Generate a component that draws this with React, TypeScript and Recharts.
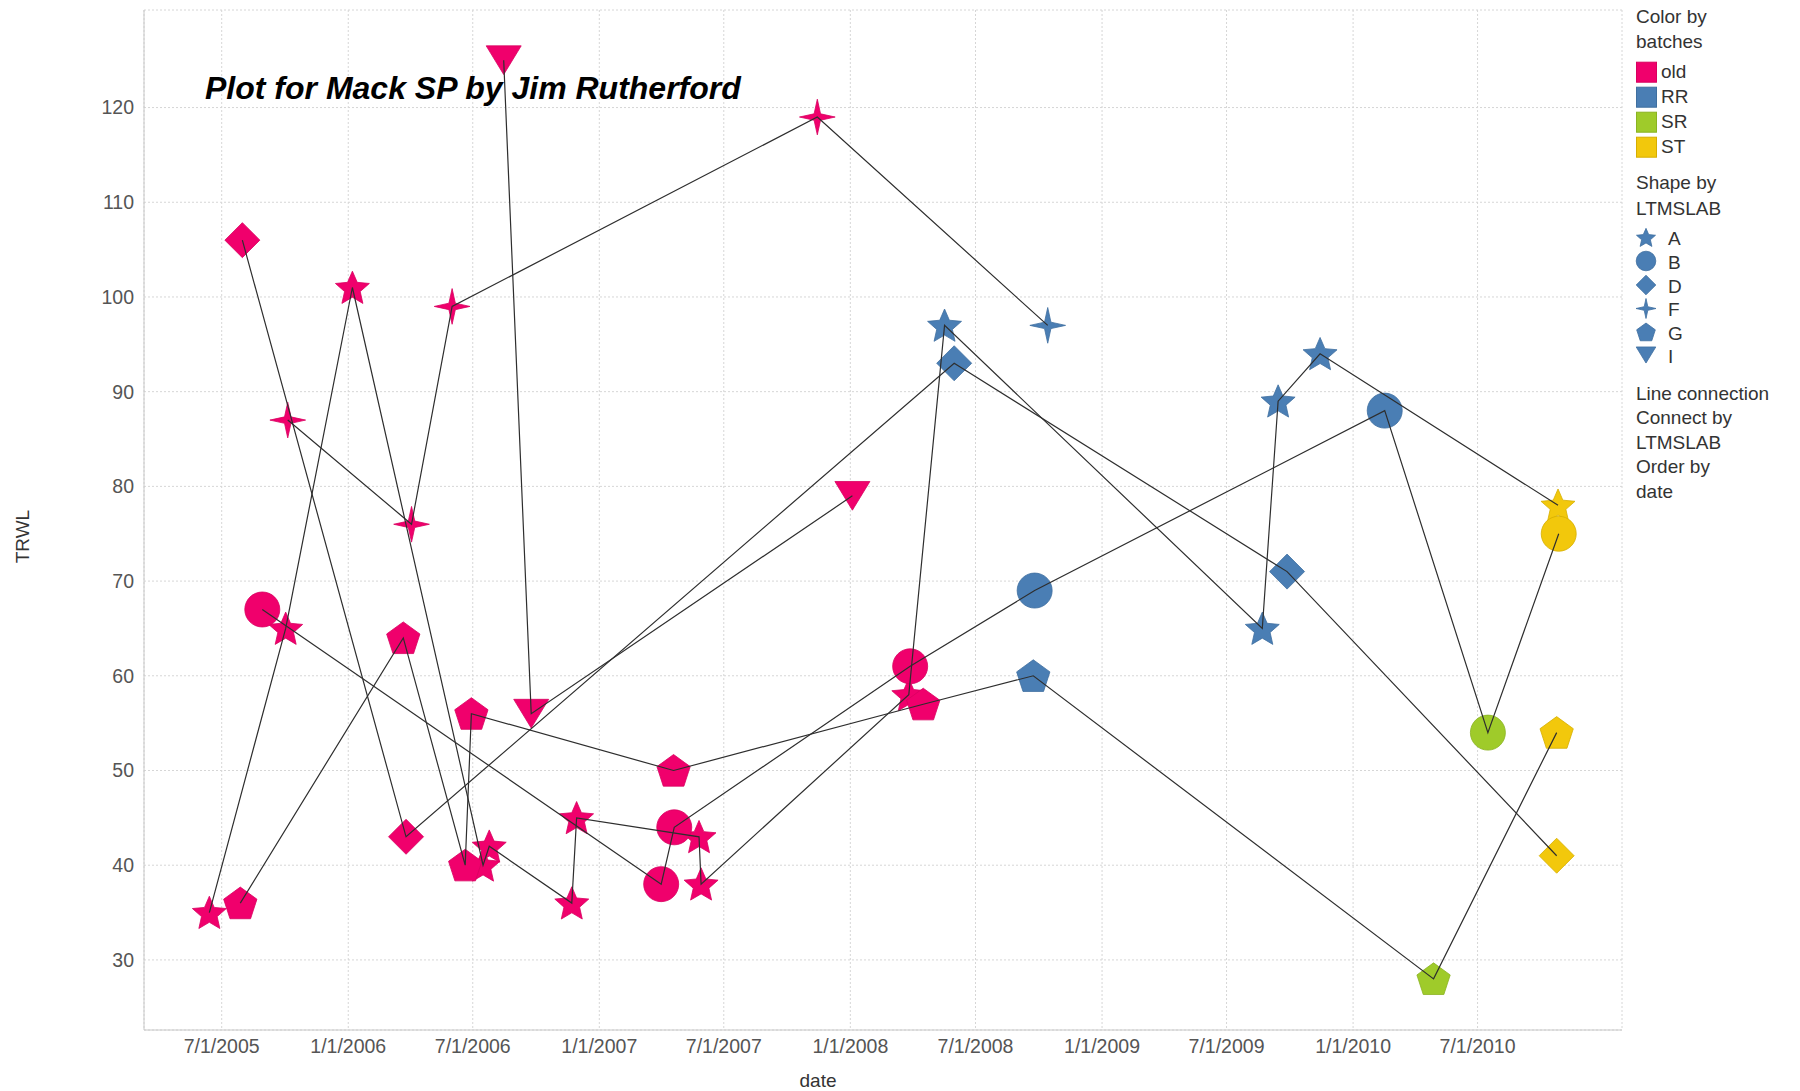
import React from 'react'
import { ScatterChart, Scatter, XAxis, YAxis, CartesianGrid } from 'recharts'

type Pt = [string, number, string]

// one list per LTMSLAB, already in date order: [date, TRWL, batch]
const labA: Pt[] = [
  ['2005-06-13', 35, 'old'],
  ['2005-10-02', 65, 'old'],
  ['2006-01-07', 101, 'old'],
  ['2006-07-16', 40, 'old'],
  ['2006-07-25', 42, 'old'],
  ['2006-11-22', 36, 'old'],
  ['2006-11-29', 45, 'old'],
  ['2007-05-26', 43, 'old'],
  ['2007-05-29', 38, 'old'],
  ['2008-03-26', 58, 'old'],
  ['2008-05-17', 97, 'RR'],
  ['2009-08-22', 65, 'RR'],
  ['2009-09-14', 89, 'RR'],
  ['2009-11-14', 94, 'RR'],
  ['2010-10-26', 78, 'ST'],
]
const labB: Pt[] = [
  ['2005-08-29', 67, 'old'],
  ['2007-04-01', 38, 'old'],
  ['2007-04-20', 44, 'old'],
  ['2008-03-28', 61, 'old'],
  ['2008-09-25', 69, 'RR'],
  ['2010-02-16', 88, 'RR'],
  ['2010-07-16', 54, 'SR'],
  ['2010-10-27', 75, 'ST'],
]
const labD: Pt[] = [
  ['2005-07-31', 106, 'old'],
  ['2006-03-26', 43, 'old'],
  ['2008-05-31', 93, 'RR'],
  ['2009-09-27', 71, 'RR'],
  ['2010-10-24', 41, 'ST'],
]
const labF: Pt[] = [
  ['2005-10-05', 87, 'old'],
  ['2006-04-03', 76, 'old'],
  ['2006-06-01', 99, 'old'],
  ['2007-11-14', 119, 'old'],
  ['2008-10-14', 97, 'RR'],
]
const labG: Pt[] = [
  ['2005-07-28', 36, 'old'],
  ['2006-03-22', 64, 'old'],
  ['2006-06-20', 40, 'old'],
  ['2006-06-29', 56, 'old'],
  ['2007-04-19', 50, 'old'],
  ['2008-04-16', 57, 'old'],
  ['2008-09-23', 60, 'RR'],
  ['2010-04-28', 28, 'SR'],
  ['2010-10-24', 54, 'ST'],
]
const labI: Pt[] = [
  ['2006-08-15', 125, 'old'],
  ['2006-09-24', 56, 'old'],
  ['2008-01-04', 79, 'old'],
]

const batches = ['old', 'RR', 'SR', 'ST']
const labs = ['A', 'B', 'D', 'F', 'G', 'I']

const xTickDates = [
  '2005-07-01', '2006-01-01', '2006-07-01', '2007-01-01', '2007-07-01', '2008-01-01',
  '2008-07-01', '2009-01-01', '2009-07-01', '2010-01-01', '2010-07-01',
]
const yTicks = [30, 40, 50, 60, 70, 80, 90, 100, 110, 120]

const COLORS: Record<string, string> = {
  old: '#f0006c',
  RR: '#4a7eb4',
  SR: '#9fcb2a',
  ST: '#f2c80c',
}
const EDGES: Record<string, string> = {
  old: '#d8005f',
  RR: '#3f6f9f',
  SR: '#8ab322',
  ST: '#d6ae00',
}

const FONT = '"Liberation Sans", Arial, sans-serif'

const toRows = (pts: Pt[]) => pts.map(([d, v, b]) => ({ t: Date.parse(d), v, batch: b }))

const series: Record<string, ReturnType<typeof toRows>> = {
  A: toRows(labA),
  B: toRows(labB),
  D: toRows(labD),
  F: toRows(labF),
  G: toRows(labG),
  I: toRows(labI),
}

const xTicks = xTickDates.map((d) => Date.parse(d))
const fmtDate = (t: number) => {
  const d = new Date(t)
  return `${d.getUTCMonth() + 1}/${d.getUTCDate()}/${d.getUTCFullYear()}`
}

function polyPts(cx: number, cy: number, radii: number[], start: number) {
  const n = radii.length
  return radii
    .map((r, i) => {
      const a = start + (i * 2 * Math.PI) / n
      return `${cx + r * Math.cos(a)},${cy + r * Math.sin(a)}`
    })
    .join(' ')
}

function Mark({ lab, cx, cy, fill, edge, s = 1 }: { lab: string; cx: number; cy: number; fill: string; edge: string; s?: number }) {
  const R = 17.5 * s
  const common = { fill, stroke: edge, strokeWidth: 0.8 }
  const up = -Math.PI / 2
  switch (lab) {
    case 'A': {
      const radii = Array.from({ length: 10 }, (_, i) => (i % 2 ? R * 0.47 : R * 1.02))
      return <polygon points={polyPts(cx, cy + 1.5 * s, radii, up)} {...common} />
    }
    case 'B':
      return <circle cx={cx} cy={cy} r={R} {...common} />
    case 'D':
      return <polygon points={`${cx},${cy - R} ${cx + R},${cy} ${cx},${cy + R} ${cx - R},${cy}`} {...common} />
    case 'F': {
      const radii = Array.from({ length: 8 }, (_, i) => (i % 2 ? R * 0.26 : R * 1.02))
      return <polygon points={polyPts(cx, cy, radii, up)} {...common} />
    }
    case 'G':
      return <polygon points={polyPts(cx, cy + 1.5 * s, [R, R, R, R, R], up)} {...common} />
    default: {
      const h = R * 0.82
      return <polygon points={`${cx - R},${cy - h} ${cx + R},${cy - h} ${cx},${cy + h}`} {...common} />
    }
  }
}

const drawOrder = ['A', 'F', 'I', 'D', 'G', 'B']

function Overlay() {
  const txt = { fontFamily: FONT, fontSize: 19, fill: '#333' }
  const colorRows = [77.7, 102.7, 127.7, 152.7]
  const shapeRows = [245, 268.5, 292.5, 316, 339.5, 363]
  const shapeIcon = [237.5, 261, 285, 308.5, 332, 355]
  return (
    <svg width={1800} height={1091} style={{ position: 'absolute', left: 0, top: 0, pointerEvents: 'none' }}>
      <text x={205} y={99} fontFamily={FONT} fontSize={32} fontWeight="bold" fontStyle="italic" fill="#000">
        Plot for Mack SP by Jim Rutherford
      </text>
      <text transform="translate(28.7,536.6) rotate(-90)" textAnchor="middle" {...txt} fill="#333">
        TRWL
      </text>
      <text x={818} y={1087} textAnchor="middle" {...txt}>
        date
      </text>

      <text x={1636} y={23} {...txt}>Color by</text>
      <text x={1636} y={48} {...txt}>batches</text>
      {batches.map((b, i) => (
        <g key={b}>
          <rect x={1636.5} y={colorRows[i] - 15.5} width={20} height={20} fill={COLORS[b]} stroke={EDGES[b]} strokeWidth={1} />
          <text x={1661} y={colorRows[i]} {...txt}>{b}</text>
        </g>
      ))}

      <text x={1636} y={189} {...txt}>Shape by</text>
      <text x={1636} y={215} {...txt}>LTMSLAB</text>
      {labs.map((l, i) => (
        <g key={l}>
          <Mark lab={l} cx={1646} cy={shapeIcon[i]} fill={COLORS.RR} edge={EDGES.RR} s={0.56} />
          <text x={1668} y={shapeRows[i]} {...txt}>{l}</text>
        </g>
      ))}

      <text x={1636} y={400} {...txt}>Line connection</text>
      <text x={1636} y={424} {...txt}>Connect by</text>
      <text x={1636} y={448.5} {...txt}>LTMSLAB</text>
      <text x={1636} y={473} {...txt}>Order by</text>
      <text x={1636} y={498} {...txt}>date</text>
    </svg>
  )
}

export default function App() {
  const tickStyle = { fill: '#555', fontSize: 19.5, fontFamily: FONT }
  return (
    <div style={{ position: 'absolute', left: 0, top: 0, width: 1800, height: 1091, background: '#fff', fontFamily: FONT }}>
      <ScatterChart width={1800} height={1091} margin={{ top: 10, right: 178, left: 0, bottom: 0 }}>
        <CartesianGrid stroke="#d6d6d6" strokeDasharray="2 2" />
        <XAxis
          type="number"
          dataKey="t"
          domain={[Date.parse('2005-03-10'), Date.parse('2011-01-27')]}
          ticks={xTicks}
          tickFormatter={fmtDate}
          allowDataOverflow
          height={61}
          tickSize={0}
          tickMargin={9}
          tick={tickStyle}
          axisLine={{ stroke: '#c8c8c8' }}
        />
        <YAxis
          type="number"
          dataKey="v"
          domain={[22.6, 130.3]}
          ticks={yTicks}
          allowDataOverflow
          width={144}
          tickSize={0}
          tickMargin={10}
          tick={tickStyle}
          axisLine={{ stroke: '#c8c8c8' }}
        />
        {drawOrder.map((l) => (
          <Scatter
            key={`m-${l}`}
            data={series[l]}
            isAnimationActive={false}
            legendType="none"
            shape={(p: any) => (
              <Mark lab={l} cx={p.cx} cy={p.cy} fill={COLORS[p.payload.batch]} edge={EDGES[p.payload.batch]} />
            )}
          />
        ))}
        {labs.map((l) => (
          <Scatter
            key={`l-${l}`}
            data={series[l]}
            isAnimationActive={false}
            legendType="none"
            line={{ stroke: '#2e2e2e', strokeWidth: 1.2 }}
            lineType="joint"
            shape={() => <g />}
          />
        ))}
      </ScatterChart>
      <Overlay />
    </div>
  )
}
